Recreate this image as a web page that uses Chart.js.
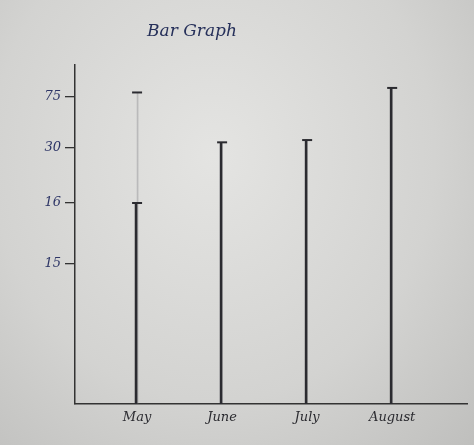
<!DOCTYPE html>
<html>
<head>
<meta charset="utf-8">
<script src="https://cdn.jsdelivr.net/npm/chart.js@4/dist/chart.umd.min.js"></script>
<style>
  html, body { margin: 0; padding: 0; }
  body { width: 474px; height: 445px; background: radial-gradient(ellipse at 45% 35%, #e4e4e2 0%, #d3d3d1 60%, #bfbfbd 100%); }
  #wrap { width: 474px; height: 445px; }
</style>
</head>
<body>
<div id="wrap"><canvas id="myChart"></canvas></div>
<script>
// static values
const months = ['May', 'June', 'July', 'August'];
const values = [16, 35, 37, 83];
const faintValues = [79, null, null, null];   // light pencil line above May
const tickValues = [15, 16, 30, 75];
const tickLabels = ['15', '16', '30', '75'];
const titleText = 'Bar Graph';

// the hand drawn axis is not evenly spaced: where each tick sits on the paper
const tickSpots = [140, 201, 256, 307];

// value -> position on the drawn axis (piecewise between the drawn ticks)
function toAxis(v) {
  if (v == null) return null;
  const xs = [0].concat(tickValues);
  const ys = [0].concat(tickSpots);
  let i = 1;
  while (i < xs.length - 1 && v > xs[i]) i++;
  const t = (v - xs[i - 1]) / (xs[i] - xs[i - 1]);
  return ys[i - 1] + t * (ys[i] - ys[i - 1]);
}

const ink = '#2b2b30';
const blueInk = '#2d3566';
const handFont = { family: 'DejaVu Serif', style: 'italic', size: 13 };

const barPts = values.map((v, i) => ({ x: i + 1, y: toAxis(v) }));
const faintPts = faintValues.map((v, i) => ({ x: i + 1, y: toAxis(v) })).filter(p => p.y != null);

// handwritten-ish title placed like on the paper
const titlePlugin = {
  id: 'paperTitle',
  afterDraw(chart) {
    const c = chart.ctx;
    c.save();
    c.font = 'italic 17px "DejaVu Serif"';
    c.fillStyle = '#26305a';
    c.textAlign = 'center';
    c.textBaseline = 'middle';
    c.fillText(titleText, 192, 32);
    c.restore();
  }
};

const ctx = document.getElementById('myChart').getContext('2d');
const myChart = new Chart(ctx, {
  type: 'bar',
  data: {
    datasets: [
      {
        label: 'faint',
        data: faintPts,
        backgroundColor: 'rgba(120,120,125,0.35)',
        barThickness: 1,
        order: 3
      },
      {
        label: 'Bars',
        data: barPts,
        backgroundColor: ink,
        barThickness: 2,
        order: 2
      },
      {
        type: 'scatter',
        label: 'caps',
        data: barPts.concat(faintPts),
        pointStyle: 'line',
        radius: 5,
        borderWidth: 2,
        borderColor: ink,
        order: 1
      }
    ]
  },
  plugins: [titlePlugin],
  options: {
    responsive: true,
    maintainAspectRatio: false,
    animation: false,
    layout: { padding: { left: 30, right: 0, top: 65, bottom: 0 } },
    plugins: {
      legend: { display: false },
      tooltip: { enabled: false }
    },
    scales: {
      x: {
        type: 'linear',
        offset: false,
        min: 0.27,
        max: 4.88,
        afterBuildTicks: axis => { axis.ticks = months.map((_, i) => ({ value: i + 1 })); },
        ticks: {
          callback: (v) => months[v - 1],
          color: ink,
          font: handFont,
          padding: 6
        },
        grid: { display: false, drawTicks: false },
        border: { color: '#333', width: 1.5 },
        afterFit: s => { s.height = 41; }
      },
      y: {
        min: 0,
        max: 339,
        afterBuildTicks: axis => { axis.ticks = tickSpots.map(v => ({ value: v })); },
        ticks: {
          callback: (v) => tickLabels[tickSpots.indexOf(v)],
          color: blueInk,
          font: handFont,
          padding: 4
        },
        grid: { display: true, drawOnChartArea: false, drawTicks: true, tickLength: 10, color: '#333', lineWidth: 1.3 },
        border: { color: '#333', width: 1.5 },
        afterFit: s => { s.width = 45; }
      }
    }
  }
});
</script>
</body>
</html>
